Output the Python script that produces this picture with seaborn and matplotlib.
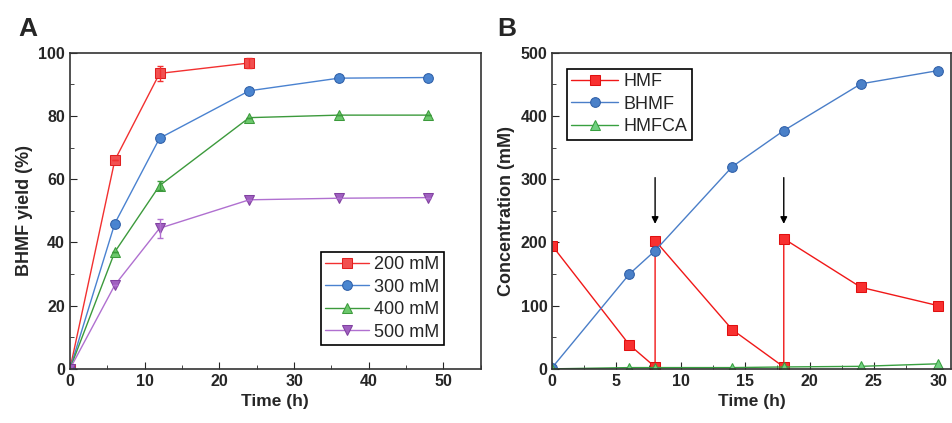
import numpy as np
import pandas as pd
import matplotlib
matplotlib.use("Agg")
import matplotlib.pyplot as plt
from matplotlib.ticker import MultipleLocator
import seaborn as sns

sns.set_style("ticks")
plt.rcParams["font.family"] = ["Liberation Sans", "DejaVu Sans"]

# Panel A data
time_a = [0, 6, 12, 24, 36, 48]
yield_200 = [0, 66, 93.5, 96.8]
err_200 = [0, 0, 2.5, 1.5]
yield_300 = [0, 46, 73, 88, 92, 92.2]
yield_400 = [0, 37, 58, 79.5, 80.3, 80.3]
err_400 = [0, 0, 1.5, 0, 0, 0]
yield_500 = [0, 26.5, 44.5, 53.5, 54, 54.2]
err_500 = [0, 0, 3, 0, 0, 0]

# Panel B data
time_hmf = [0, 6, 8, 8, 14, 18, 18, 24, 30]
conc_hmf = [195, 38, 3, 203, 62, 3, 206, 129, 100]
time_b = [0, 6, 8, 14, 18, 24, 30]
conc_bhmf = [2, 150, 187, 320, 377, 451, 472]
conc_hmfca = [0, 2, 2, 2, 3, 4, 8]
arrow_x = [8, 18]

df_a = pd.concat([
    pd.DataFrame({"Time": time_a[:4], "Yield": yield_200, "err": err_200, "Series": "200 mM"}),
    pd.DataFrame({"Time": time_a, "Yield": yield_300, "err": 0, "Series": "300 mM"}),
    pd.DataFrame({"Time": time_a, "Yield": yield_400, "err": err_400, "Series": "400 mM"}),
    pd.DataFrame({"Time": time_a, "Yield": yield_500, "err": err_500, "Series": "500 mM"}),
])

styles_a = {
    "200 mM": dict(color="#f23030", mfc="#f25050", mec="#e02020", marker="s"),
    "300 mM": dict(color="#4a82d0", mfc="#4a86d0", mec="#2f5fa8", marker="o"),
    "400 mM": dict(color="#3c9a3c", mfc="#6cc86c", mec="#3c9a3c", marker="^"),
    "500 mM": dict(color="#b070d0", mfc="#a060c0", mec="#8040a0", marker="v"),
}

fig = plt.figure(figsize=(9.52, 4.23), dpi=100)
ax1 = fig.add_axes([0.0735, 0.128, 0.4315, 0.747])
ax2 = fig.add_axes([0.58, 0.128, 0.419, 0.747])

for name, st in styles_a.items():
    d = df_a[df_a["Series"] == name]
    sns.lineplot(data=d, x="Time", y="Yield", ax=ax1, color=st["color"], marker=st["marker"],
                 markersize=7, markerfacecolor=st["mfc"], markeredgecolor=st["mec"],
                 lw=1.0, label=name, estimator=None, sort=False)
    ax1.errorbar(d["Time"], d["Yield"], yerr=d["err"], fmt="none", ecolor=st["color"],
                 elinewidth=1, capsize=2.5)

ax1.set_xlim(0, 55)
ax1.set_ylim(0, 100)
ax1.xaxis.set_major_locator(MultipleLocator(10))
ax1.xaxis.set_minor_locator(MultipleLocator(5))
ax1.yaxis.set_major_locator(MultipleLocator(20))
ax1.yaxis.set_minor_locator(MultipleLocator(10))
ax1.set_xlabel("Time (h)", fontsize=12.5, fontweight="bold")
ax1.set_ylabel("BHMF yield (%)", fontsize=13, fontweight="bold")
leg1 = ax1.legend(loc="lower right", bbox_to_anchor=(0.91, 0.075), fontsize=13, frameon=True,
                  fancybox=False, edgecolor="black", framealpha=1, handlelength=2.4,
                  borderpad=0.25, labelspacing=0.3, handletextpad=0.3, borderaxespad=0)
leg1.get_frame().set_linewidth(1.2)

# Panel B
styles_b = [
    ("HMF", time_hmf, conc_hmf, dict(color="#f01818", mfc="#f83030", mec="#e01010", marker="s")),
    ("BHMF", time_b, conc_bhmf, dict(color="#4a7ec8", mfc="#4a80c8", mec="#2f5fa8", marker="o")),
    ("HMFCA", time_b, conc_hmfca, dict(color="#38a040", mfc="#70d080", mec="#38a040", marker="^")),
]
for name, xs, ys, st in styles_b:
    d = pd.DataFrame({"Time": xs, "Conc": ys})
    sns.lineplot(data=d, x="Time", y="Conc", ax=ax2, color=st["color"], marker=st["marker"],
                 markersize=7, markerfacecolor=st["mfc"], markeredgecolor=st["mec"],
                 lw=1.0, label=name, estimator=None, sort=False)

for xa in arrow_x:
    ax2.annotate("", xy=(xa, 225), xytext=(xa, 307),
                 arrowprops=dict(arrowstyle="-|>", color="black", lw=1, mutation_scale=10))

ax2.set_xlim(0, 31)
ax2.set_ylim(0, 500)
ax2.xaxis.set_major_locator(MultipleLocator(5))
ax2.xaxis.set_minor_locator(MultipleLocator(2.5))
ax2.yaxis.set_major_locator(MultipleLocator(100))
ax2.yaxis.set_minor_locator(MultipleLocator(50))
ax2.set_xlabel("Time (h)", fontsize=12.5, fontweight="bold")
ax2.set_ylabel("Concentration (mM)", fontsize=13, fontweight="bold")
leg2 = ax2.legend(loc="upper left", bbox_to_anchor=(0.037, 0.95), fontsize=13, frameon=True,
                  fancybox=False, edgecolor="black", framealpha=1, handlelength=2.6,
                  borderpad=0.25, labelspacing=0.3, handletextpad=0.3, borderaxespad=0)
leg2.get_frame().set_linewidth(1.2)

for ax in (ax1, ax2):
    for sp in ax.spines.values():
        sp.set_color("#333333")
        sp.set_linewidth(1.2)
    ax.tick_params(which="both", direction="in", top=False, right=False, labelsize=11.5)
    ax.tick_params(which="major", length=5)
    ax.tick_params(which="minor", length=3)
    for lab in ax.get_xticklabels() + ax.get_yticklabels():
        lab.set_fontweight("bold")

fig.text(0.019, 0.915, "A", fontsize=19, fontweight="bold")
fig.text(0.522, 0.915, "B", fontsize=19, fontweight="bold")

fig.savefig("out.png", dpi=100)
